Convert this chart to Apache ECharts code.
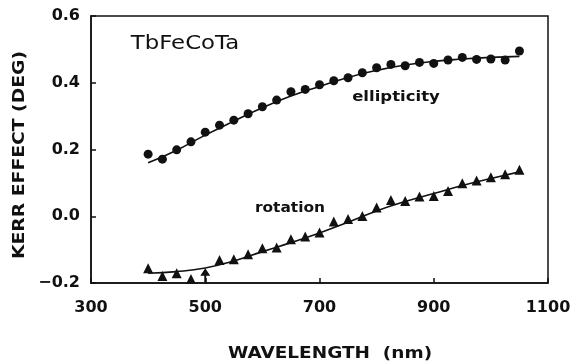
<!DOCTYPE html>
<html>
<head>
<meta charset="utf-8">
<script src="https://cdn.jsdelivr.net/npm/echarts@6/dist/echarts.min.js"></script>
<style>html,body{margin:0;padding:0;background:#fff;}#c{width:579px;height:362px;}</style>
</head>
<body>
<div id="c"></div>
<script>
// Measured wavelengths (nm)
var wavelengths = [400,425,450,475,500,525,550,575,600,625,650,675,700,725,750,775,800,825,850,875,900,925,950,975,1000,1025,1050];
// Ellipticity data points (deg)
var ellipticity = [0.186,0.171,0.199,0.223,0.252,0.273,0.288,0.307,0.328,0.348,0.373,0.380,0.394,0.406,0.415,0.430,0.445,0.455,0.451,0.461,0.458,0.468,0.476,0.470,0.471,0.468,0.495];
// Rotation data points (deg)
var rotation = [-0.156,-0.179,-0.171,-0.188,-0.178,-0.131,-0.129,-0.114,-0.096,-0.094,-0.069,-0.061,-0.049,-0.016,-0.008,0.001,0.026,0.049,0.046,0.059,0.061,0.076,0.099,0.107,0.117,0.126,0.139];
// Fitted curves
var fitWavelengths = [400,450,500,550,600,650,700,750,800,850,900,950,1000,1050];
var ellipticityFit = [0.160,0.198,0.243,0.285,0.325,0.360,0.389,0.416,0.437,0.453,0.464,0.471,0.476,0.479];
var rotationFit = [-0.171,-0.166,-0.155,-0.134,-0.106,-0.079,-0.050,-0.018,0.016,0.044,0.068,0.092,0.113,0.133];
var xTicks = [300,500,700,900,1100];
var yTicks = [-0.2,0.0,0.2,0.4,0.6];

var arrowSymbol = 'path://M5,0 L10,8 L6,8 L6,16 L4,16 L4,8 L0,8 Z';

function pairs(xs, ys){ return xs.map(function(x,i){ return [x, ys[i]]; }); }
var rotData = pairs(wavelengths, rotation).map(function(p){
  if (p[0] === 500) return {value:p, symbol: arrowSymbol, symbolSize:[10,15]};
  return p;
});

var chart = echarts.init(document.getElementById('c'), null, {renderer:'canvas'});
var FONT = 'DejaVu Sans';
chart.setOption({
  animation:false,
  backgroundColor:'#ffffff',
  grid:{left:91, right:31, top:16, bottom:79, show:true, borderColor:'#111', borderWidth:1.5, backgroundColor:'transparent'},
  xAxis:{
    type:'value', min:xTicks[0], max:xTicks[xTicks.length-1], interval:200,
    axisLine:{show:true, onZero:false, lineStyle:{color:'#111', width:1.5}},
    axisTick:{show:true, inside:true, length:5, lineStyle:{color:'#111', width:1.5}},
    splitLine:{show:false},
    axisLabel:{color:'#111', fontFamily:FONT, fontWeight:'bold', fontSize:16, margin:17,
      formatter:function(v){ return String(v); }}
  },
  yAxis:{
    type:'value', min:yTicks[0], max:yTicks[yTicks.length-1], interval:0.2,
    axisLine:{show:true, onZero:false, lineStyle:{color:'#111', width:1.5}},
    axisTick:{show:true, inside:true, length:5, lineStyle:{color:'#111', width:1.5}},
    splitLine:{show:false},
    axisLabel:{color:'#111', fontFamily:FONT, fontWeight:'bold', fontSize:16, margin:11, padding:[8,0,0,0],
      formatter:function(v){ var s = Math.abs(v).toFixed(1); return v < -1e-9 ? '\u2212' + s : s; }}
  },
  series:[
    {type:'line', data:pairs(fitWavelengths, ellipticityFit), smooth:true, showSymbol:false, symbol:'none',
     lineStyle:{color:'#111', width:1.6}, z:2},
    {type:'line', data:pairs(fitWavelengths, rotationFit), smooth:true, showSymbol:false, symbol:'none',
     lineStyle:{color:'#111', width:1.6}, z:2},
    {type:'scatter', data:pairs(wavelengths, ellipticity), symbol:'circle', symbolSize:9,
     itemStyle:{color:'#111', opacity:1}, z:3},
    {type:'scatter', data:rotData, symbol:'triangle', symbolSize:10,
     itemStyle:{color:'#111', opacity:1}, z:3}
  ],
  graphic:[
    {type:'text', x:185, y:44, scaleX:1.2, style:{text:'TbFeCoTa', font:'19px "DejaVu Sans"', fill:'#111', align:'center', verticalAlign:'middle'}},
    {type:'text', x:396, y:97, scaleX:1.18, style:{text:'ellipticity', font:'bold 14px "DejaVu Sans"', fill:'#111', align:'center', verticalAlign:'middle'}},
    {type:'text', x:290, y:208, scaleX:1.1, style:{text:'rotation', font:'bold 14px "DejaVu Sans"', fill:'#111', align:'center', verticalAlign:'middle'}},
    {type:'text', x:330, y:354, scaleX:1.23, style:{text:'WAVELENGTH  (nm)', font:'bold 15px "DejaVu Sans"', fill:'#111', align:'center', verticalAlign:'middle'}},
    {type:'text', x:20, y:155, rotation:Math.PI/2, scaleX:1.25, style:{text:'KERR EFFECT (DEG)', font:'bold 15px "DejaVu Sans"', fill:'#111', align:'center', verticalAlign:'middle'}}
  ]
});
</script>
</body>
</html>
